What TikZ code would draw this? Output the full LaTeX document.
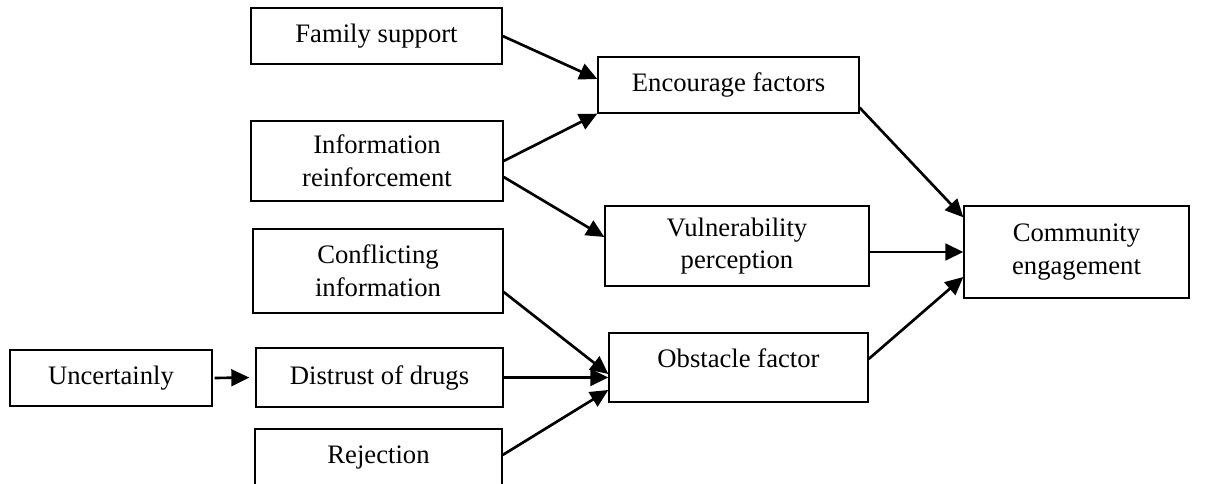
\documentclass[tikz,border=0pt]{standalone}
\usepackage{fontspec}
\setmainfont{Liberation Serif}
\usetikzlibrary{calc,arrows.meta}
\begin{document}
\begin{tikzpicture}[x=0.75pt,y=-0.75pt,
  box/.style={draw,line width=1pt,align=center,inner sep=0pt,font=\fontsize{20}{24.5}\selectfont},
  arr/.style={line width=2pt,-{Triangle[length=13.5pt,width=12.5pt]}}]
\useasboundingbox (0,0) rectangle (1211,484);
\clip (0,0) rectangle (1211,484);
\node[box,minimum width=188.25pt,minimum height=42pt] (fam) at (376.5,36) {Family support};
\node[box,minimum width=195.75pt,minimum height=42pt] (enc) at (728.5,85) {Encourage factors};
\node[box,minimum width=189pt,minimum height=60pt] (info) at (377,161) {Information\\reinforcement};
\node[box,minimum width=198pt,minimum height=60pt] (vul) at (737,246) {Vulnerability\\perception};
\node[box,minimum width=168.75pt,minimum height=69pt] (com) at (1076.5,252) {Community\\engagement};
\node[box,minimum width=187.5pt,minimum height=63pt] (con) at (378,271) {Conflicting\\information};
\node[box,minimum width=194.25pt,minimum height=51.75pt,text height=14pt,text depth=14pt] (obs) at (738.5,367.5) {Obstacle factor};
\node[box,minimum width=151.5pt,minimum height=42pt] (unc) at (111,378) {Uncertainly};
\node[box,minimum width=185.25pt,minimum height=44.25pt] (dis) at (379.5,377.5) {Distrust of drugs};
\node[box,minimum width=185.25pt,minimum height=52.5pt,text height=14pt,text depth=14pt] (rej) at (378.5,464) {Rejection};
\draw[arr] (fam.east) -- ($(enc.west)+(0,-6)$);
\draw[arr] (info.east) -- (enc.south west);
\draw[arr] ($(info.east)+(0,16)$) -- ($(vul.west)+(0,-9)$);
\draw[arr] ($(enc.south east)+(0,-6)$) -- ($(com.north west)+(0,12)$);
\draw[arr] (vul.east |- com.west) -- (com.west);
\draw[arr] ($(obs.east)+(0,-8.5)$) -- ($(com.west)+(0,25)$);
\draw[arr] ($(con.east)+(0,21)$) -- ($(obs.west)+(0,6.5)$);
\draw[arr] (dis.east) -- (dis.east -| obs.west);
\draw[arr] ($(rej.east)+(0,-9)$) -- ($(obs.west)+(0,22.5)$);
\draw[arr,shorten <=1.5pt,shorten >=4.5pt] (unc.east) -- (dis.west);
\end{tikzpicture}
\end{document}
